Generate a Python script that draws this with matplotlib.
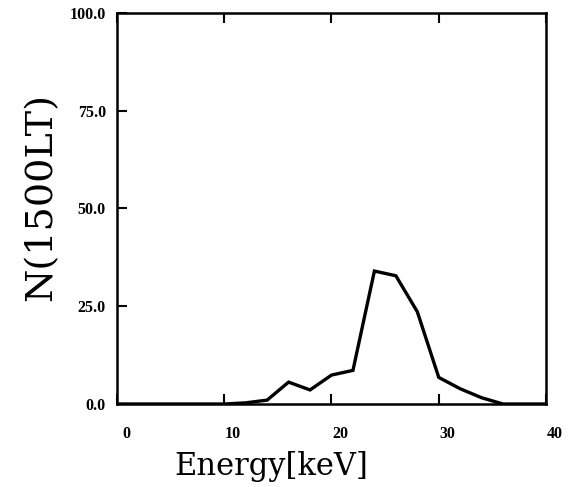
import matplotlib
matplotlib.use('Agg')
import matplotlib.pyplot as plt
import matplotlib.transforms as mtransforms

# spectrum (2 keV steps)
energy = [0, 2, 4, 6, 8, 10, 12, 14, 16, 18, 20, 22, 24, 26, 28, 30, 32, 34, 36, 38, 40]
counts = [0, 0, 0, 0, 0, 0, 0.3, 1.0, 5.6, 3.6, 7.4, 8.6, 34.0, 32.8, 23.6, 6.8, 3.9, 1.6, 0, 0, 0]

xticks = [0, 10, 20, 30, 40]
xticklabels = ['0', '10', '20', '30', '40']
yticks = [0, 25, 50, 75, 100]
yticklabels = ['0.0', '25.0', '50.0', '75.0', '100.0']

fig = plt.figure(figsize=(5.69, 4.87), dpi=100)
ax = fig.add_axes([0.2056, 0.1704, 0.754, 0.803])

ax.plot(energy, counts, color='black', linewidth=2.4, solid_joinstyle='miter')

ax.set_xlim(0, 40)
ax.set_ylim(0, 100)

tick_font = dict(family='Liberation Serif', weight='bold', size=11.5)
ax.set_xticks(xticks)
ax.set_xticklabels(xticklabels, fontdict=tick_font)
ax.set_yticks(yticks)
ax.set_yticklabels(yticklabels, fontdict=tick_font)

ax.tick_params(axis='both', direction='in', length=7, width=1.5,
               top=True, right=False, color='black')
ax.tick_params(axis='x', pad=16)
ax.tick_params(axis='y', pad=8)

# the scanned x labels sit a little right of their ticks
shift = mtransforms.ScaledTranslation(9 / 100, 0, fig.dpi_scale_trans)
for lab in ax.get_xticklabels():
    lab.set_transform(lab.get_transform() + shift)

for sp in ax.spines.values():
    sp.set_linewidth(1.8)

ax.set_xlabel('Energy[keV]', family='DejaVu Serif', fontsize=22)
ax.xaxis.set_label_coords(0.36, -0.12)
ax.set_ylabel('N(1500LT)', family='DejaVu Serif', fontsize=27.5)
ax.yaxis.set_label_coords(-0.135, 0.53)

fig.savefig('out.png', dpi=100)
